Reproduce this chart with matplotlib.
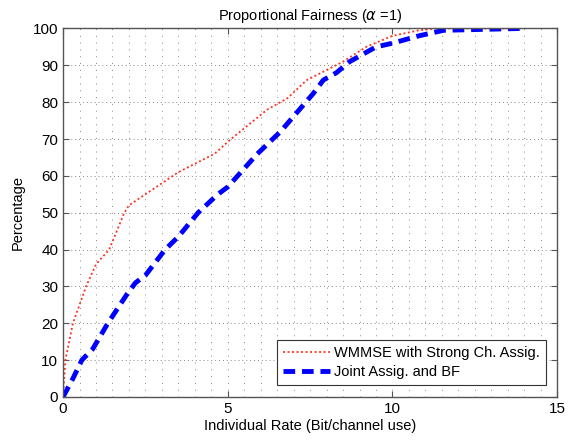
import matplotlib
matplotlib.use('Agg')
import matplotlib.pyplot as plt
import numpy as np

plt.rcParams['font.family'] = ['Liberation Sans', 'DejaVu Sans']

# WMMSE with Strong Ch. Assig.
wmmse_x = [0, 0.07, 0.3, 0.7, 1.0, 1.4, 1.86, 2.0, 2.5, 3.5, 4.6, 5.1, 6.2, 6.8, 7.4, 8.5, 9.2, 10.0, 10.8, 11.35, 12.0, 13.9]
wmmse_y = [0, 10, 20, 30, 36, 40, 50, 52, 55, 61, 66, 70, 78, 81, 86, 91, 95, 98, 99.5, 100, 100, 100]

# Joint Assig. and BF
joint_x = [0, 0.3, 0.57, 0.9, 1.36, 1.95, 2.2, 2.5, 3.1, 3.5, 4.1, 4.7, 5.0, 5.2, 5.5, 5.9, 6.6, 7.6, 7.9, 8.3, 8.7, 9.5, 10.0, 10.8, 11.55, 13.9]
joint_y = [0, 5, 10, 13, 20, 28, 31, 33, 40, 43.5, 50, 55, 57, 59, 62, 66, 72, 82.4, 86, 88, 91, 95, 96, 98, 99.5, 100]

fig = plt.figure(figsize=(5.68, 4.45), dpi=100)
ax = fig.add_axes([0.111, 0.108, 0.870, 0.828])

ax.plot(wmmse_x, wmmse_y, color='#ff3322', lw=1.3, dashes=(1.1, 1.4),
        label='WMMSE with Strong Ch. Assig.')
ax.plot(joint_x, joint_y, color='#0000ff', lw=3.5, dashes=(2.4, 1.4),
        label='Joint Assig. and BF')

ax.set_xlim(0, 15)
ax.set_ylim(0, 100)
ax.set_xticks([0, 5, 10, 15])
ax.set_yticks(np.arange(0, 101, 10))
ax.set_xticks(np.arange(0, 15.01, 0.5), minor=True)
ax.tick_params(which='minor', length=0)
ax.grid(True, which='major', axis='y', color='#888888', linestyle=(0, (1, 3)), lw=0.7)
ax.grid(True, which='both', axis='x', color='#888888', linestyle=(0, (1, 6)), lw=0.7)
ax.tick_params(which='major', direction='in', top=True, right=True, length=4,
               labelsize=11, color='#555555')
for s in ax.spines.values():
    s.set_color('#555555')
    s.set_linewidth(1.0)

ax.set_xlabel('Individual Rate (Bit/channel use)', fontsize=10.5, labelpad=2)
ax.set_ylabel('Percentage', fontsize=10.5, labelpad=6)
ax.set_title(r'Proportional Fairness ($\alpha$ =1)', fontsize=10.5, pad=6)

leg = ax.legend(loc='lower right', fontsize=10.5, fancybox=False, framealpha=1,
                edgecolor='#333333', borderaxespad=0.8, handlelength=3.2,
                handletextpad=0.3, borderpad=0.4, labelspacing=0.4)
leg.get_frame().set_linewidth(0.8)

fig.savefig('out.png', dpi=100)
